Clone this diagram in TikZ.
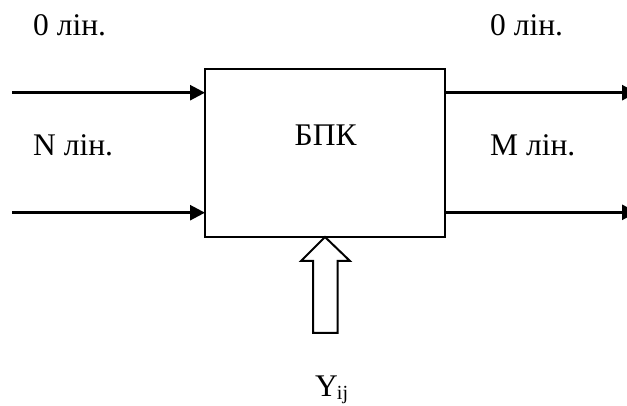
\documentclass[tikz,border=0pt]{standalone}
\usepackage{fontspec}
\setmainfont{Liberation Serif}
\usetikzlibrary{arrows.meta}
\begin{document}
\begin{tikzpicture}[x=1pt,y=-1pt,
 lbl/.style={inner sep=0pt,anchor=base west,font=\fontsize{31.5}{33}\selectfont,text=black},
 wire/.style={draw=black,line width=2.6pt,-{Triangle[length=15pt,width=15pt]}},
 shapeline/.style={draw=black,line width=2pt,line join=miter}]
\useasboundingbox (0,0) rectangle (627,406);
\fill[white] (0,0) rectangle (627,406);
\node[shapeline,minimum width=240pt,minimum height=168pt,inner sep=0pt,outer sep=0pt] (box) at (325,153) {};
\node[lbl] (t) at (294.5,146) {БПК};
\coordinate (i1) at (12,92.7); \coordinate (i1e) at (205,92.7);
\coordinate (i2) at (12,212.7); \coordinate (i2e) at (205,212.7);
\coordinate (o1s) at (445,92.7); \coordinate (o1) at (637,92.7);
\coordinate (o2s) at (445,212.3); \coordinate (o2) at (637,212.3);
\draw[wire] (i1) -- (i1e);
\draw[wire] (i2) -- (i2e);
\draw[wire] (o1s) -- (o1);
\draw[wire] (o2s) -- (o2);
\draw[shapeline,fill=white] (313,333) -- (337.5,333) -- (337.5,261) -- (350,261) -- (325,237) -- (301,261) -- (313,261) -- cycle;
\node[lbl] (a) at (33,36) {0 лін.};
\node[lbl] (b) at (490,36) {0 лін.};
\node[lbl] (c) at (33,156) {N лін.};
\node[lbl] (d) at (490,156) {M лін.};
\node[lbl] (y) at (315,396.5) {Y\kern-1pt\raisebox{-2.5pt}{\fontsize{20}{20}\selectfont ij}};
\end{tikzpicture}
\end{document}
